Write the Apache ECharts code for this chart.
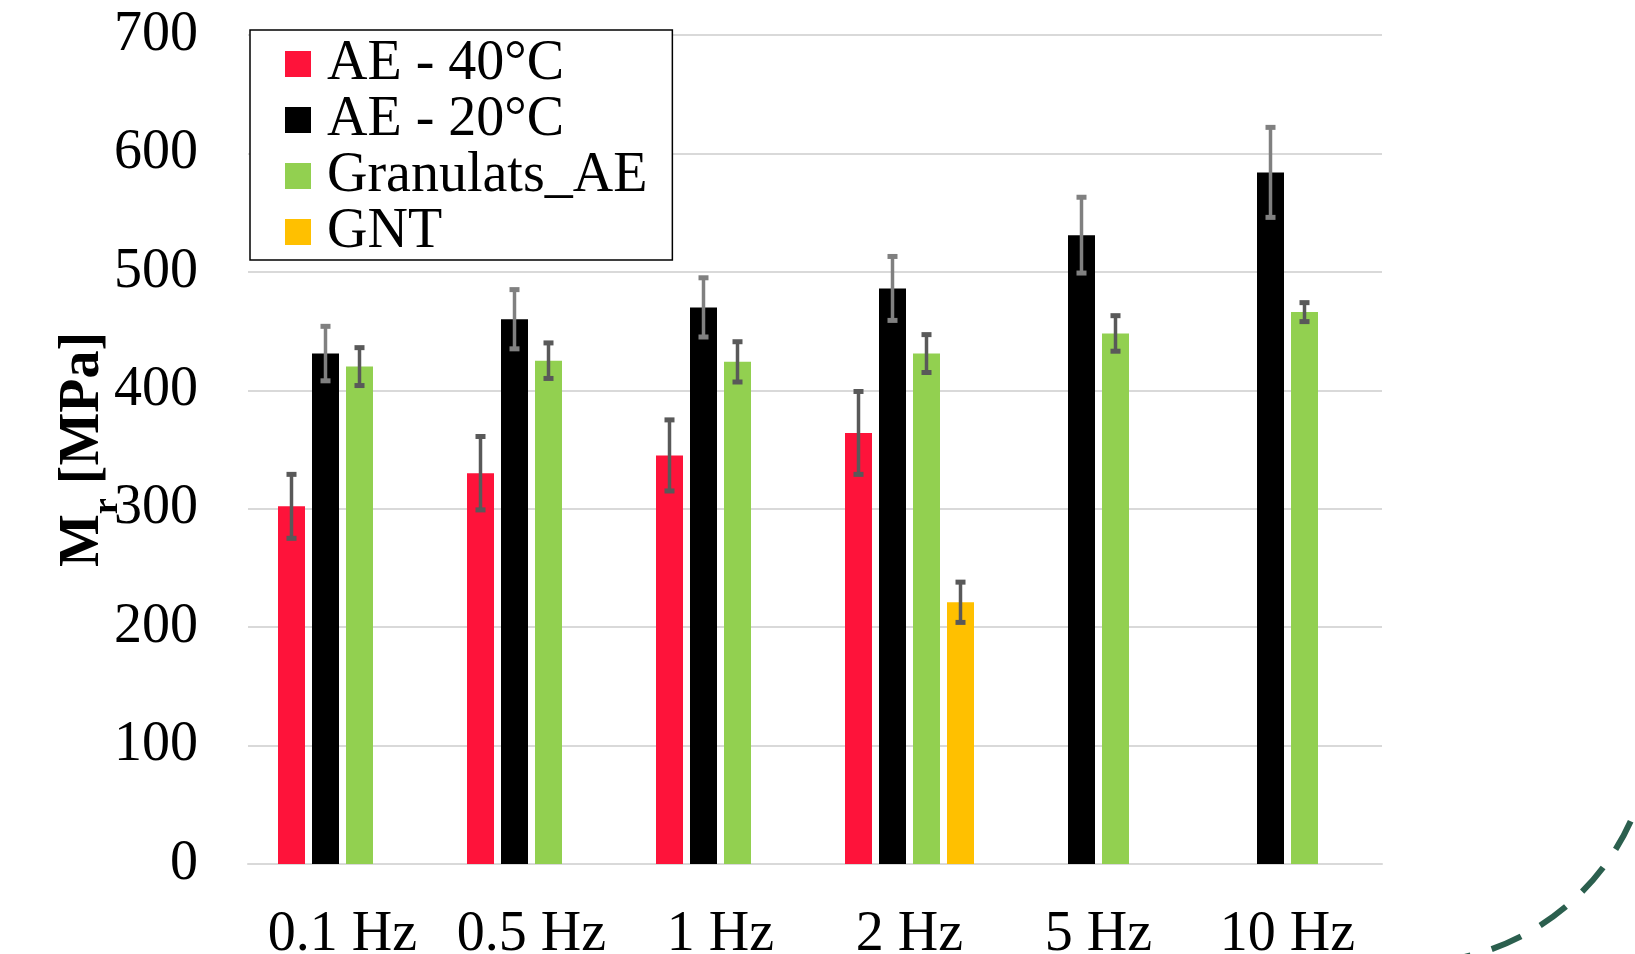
<!DOCTYPE html>
<html>
<head>
<meta charset="utf-8">
<script src="https://cdn.jsdelivr.net/npm/echarts@6/dist/echarts.min.js"></script>
<style>
html,body{margin:0;padding:0;background:#fff;}
#main{width:1635px;height:954px;}
</style>
</head>
<body>
<div id="main"></div>
<script>
const categories = ['0.1 Hz', '0.5 Hz', '1 Hz', '2 Hz', '5 Hz', '10 Hz'];
const seriesNames = ['AE - 40°C', 'AE - 20°C', 'Granulats_AE', 'GNT'];
const ae40 = [302, 330, 345, 364, null, null];
const ae40Err = [27, 31, 30, 35, null, null];
const ae20 = [431, 460, 470, 486, 531, 584];
const ae20Err = [23, 25, 25, 27, 32, 38];
const granulats = [420, 425, 424, 431, 448, 466];
const granulatsErr = [16, 15, 17, 16, 15, 8];
const gnt = [null, null, null, 221, null, null];
const gntErr = [null, null, null, 17, null, null];
const yTicks = { min: 0, max: 700, interval: 100 };

const colors = ['#fe133a', '#000000', '#92d050', '#ffc000'];
const errColors = ['#595959', '#808080', '#595959', '#595959'];
const FONT = 'Liberation Serif';
const BAR_W = 27, BAR_GAP = 7;

const values = [ae40, ae20, granulats, gnt];
const errs = [ae40Err, ae20Err, granulatsErr, gntErr];

const chart = echarts.init(document.getElementById('main'), null, { renderer: 'canvas' });

const barSeries = values.map((v, i) => ({
  name: seriesNames[i],
  type: 'bar',
  data: v,
  barWidth: BAR_W,
  barGap: (BAR_GAP / BAR_W * 100) + '%',
  itemStyle: { color: colors[i] },
  z: 2
}));

const errSeries = values.map((v, i) => ({
  type: 'custom',
  name: 'err' + i,
  z: 5,
  encode: { x: 0, y: 1 },
  data: v.map((val, k) => val == null ? null : [k, val, errs[i][k]]).filter(d => d),
  renderItem: function (params, api) {
    const k = api.value(0), val = api.value(1), e = api.value(2);
    const off = (i - 1.5) * (BAR_W + BAR_GAP);
    const top = api.coord([k, val + e]);
    const bot = api.coord([k, val - e]);
    const x = top[0] + off;
    const c = errColors[i];
    return {
      type: 'group',
      children: [
        { type: 'line', shape: { x1: x, y1: top[1], x2: x, y2: bot[1] }, style: { stroke: c, lineWidth: 3.5 } },
        { type: 'rect', shape: { x: x - 5, y: top[1] - 2.5, width: 10, height: 5 }, style: { fill: c } },
        { type: 'rect', shape: { x: x - 5, y: bot[1] - 2.5, width: 10, height: 5 }, style: { fill: c } }
      ]
    };
  }
}));

chart.setOption({
  animation: false,
  backgroundColor: '#ffffff',
  grid: { left: 248, right: 253, top: 35, bottom: 90, containLabel: false, outerBoundsMode: 'none' },
  legend: {
    orient: 'vertical',
    left: 250,
    top: 30,
    data: seriesNames,
    icon: 'rect',
    itemWidth: 26,
    itemHeight: 26,
    itemGap: 0,
    padding: [6, 25, 0, 35],
    borderColor: '#000',
    borderWidth: 1.5,
    backgroundColor: '#fff',
    textStyle: { fontFamily: FONT, fontSize: 56, color: '#000', lineHeight: 56, padding: [0, 0, 0, 11] }
  },
  xAxis: {
    type: 'category',
    data: categories,
    axisTick: { show: false },
    axisLine: { lineStyle: { color: '#d9d9d9', width: 2 } },
    axisLabel: { fontFamily: FONT, fontSize: 56, color: '#000', margin: 43, interval: 0 }
  },
  yAxis: {
    type: 'value',
    min: yTicks.min, max: yTicks.max, interval: yTicks.interval,
    axisLine: { show: false },
    axisTick: { show: false },
    splitLine: { lineStyle: { color: '#d9d9d9', width: 2 } },
    axisLabel: { fontFamily: FONT, fontSize: 56, color: '#000', margin: 50 },
    name: '{m|M}{s|r}{m| [MPa]}',
    nameLocation: 'middle',
    nameRotate: 90,
    nameGap: 122,
    nameMoveOverlap: false,
    nameTextStyle: {
      rich: {
        m: { fontFamily: FONT, fontSize: 56, fontWeight: 'bold', color: '#000', lineHeight: 84, verticalAlign: 'middle' },
        s: { fontFamily: FONT, fontSize: 36, fontWeight: 'bold', color: '#000', lineHeight: 84, verticalAlign: 'bottom' }
      }
    }
  },
  graphic: [{
    type: 'arc',
    shape: { cx: 1411, cy: 722, r: 241, startAngle: 0.2, endAngle: 1.5 },
    style: { stroke: '#2b5f4e', lineWidth: 6, lineDash: [32, 22], fill: null },
    z: 10
  }],
  series: barSeries.concat(errSeries)
});
</script>
</body>
</html>
